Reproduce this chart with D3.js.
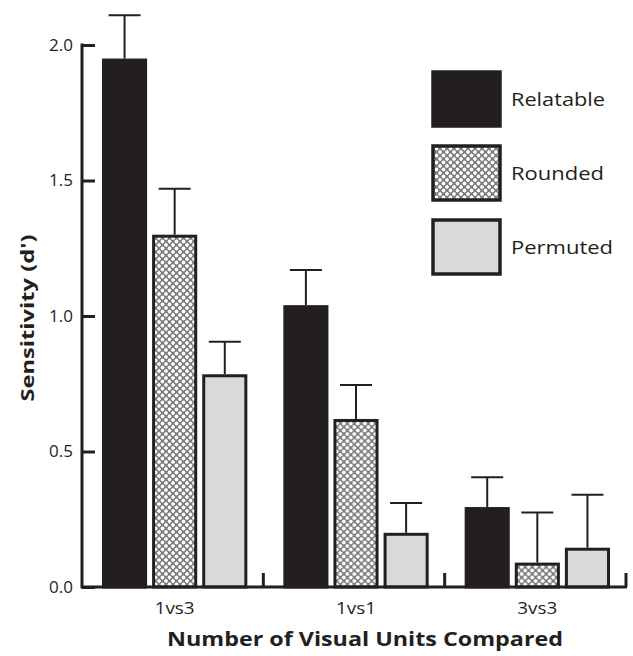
<!DOCTYPE html>
<html>
<head>
<meta charset="utf-8">
<script src="https://cdn.jsdelivr.net/npm/d3@7"></script>
<style>
  body { margin: 0; background: #fff; }
  text { font-family: "Open Sans", "Noto Sans", sans-serif; fill: #231f20; }
</style>
</head>
<body>
<script>
// data
const categories = ["1vs3", "1vs1", "3vs3"];
const seriesNames = ["Relatable", "Rounded", "Permuted"];
const relatable = [1.95, 1.04, 0.295];
const rounded = [1.30, 0.62, 0.09];
const permuted = [0.785, 0.20, 0.145];
const relatableErr = [0.16, 0.13, 0.11];
const roundedErr = [0.17, 0.125, 0.185];
const permutedErr = [0.12, 0.11, 0.195];
const yTicks = [0, 0.5, 1.0, 1.5, 2.0];

const W = 633, H = 656;
const ink = "#231f20";

const svg = d3.select("body").append("svg")
  .attr("width", W).attr("height", H);

// crosshatch-ish fill for the Rounded bars
const defs = svg.append("defs");
const pat = defs.append("pattern")
  .attr("id", "roundPat")
  .attr("patternUnits", "userSpaceOnUse")
  .attr("width", 7).attr("height", 7);
pat.append("rect").attr("width", 7).attr("height", 7).attr("fill", "#8c8c8c");
[[0,0],[7,0],[0,7],[7,7],[3.5,3.5]].forEach(([cx, cy]) => {
  pat.append("circle").attr("cx", cx).attr("cy", cy).attr("r", 2.4)
    .attr("fill", "#fff").attr("stroke", "#444").attr("stroke-width", 0.6);
});

const fills = ["#231f20", "url(#roundPat)", "#d9d9d9"];

const x0 = d3.scaleBand().domain(categories).range([82, 626]).padding(0);
const x1 = d3.scaleBand().domain(seriesNames).range([20, x0.bandwidth() - 16]).paddingInner(0.1);
const y = d3.scaleLinear().domain([0, 2]).range([587, 45]);

const rows = categories.map((c, i) => ({
  cat: c,
  vals: [
    {s: seriesNames[0], v: relatable[i], e: relatableErr[i], k: 0},
    {s: seriesNames[1], v: rounded[i], e: roundedErr[i], k: 1},
    {s: seriesNames[2], v: permuted[i], e: permutedErr[i], k: 2}
  ]
}));

const groups = svg.selectAll("g.grp").data(rows).enter()
  .append("g").attr("class", "grp")
  .attr("transform", d => `translate(${x0(d.cat)},0)`);

// error bars (upper only)
const eb = groups.selectAll("g.eb").data(d => d.vals).enter().append("g").attr("class", "eb");
eb.append("line")
  .attr("x1", d => x1(d.s) + x1.bandwidth() / 2)
  .attr("x2", d => x1(d.s) + x1.bandwidth() / 2)
  .attr("y1", d => y(d.v)).attr("y2", d => y(d.v + d.e))
  .attr("stroke", ink).attr("stroke-width", 2);
eb.append("line")
  .attr("x1", d => x1(d.s) + x1.bandwidth() / 2 - 16)
  .attr("x2", d => x1(d.s) + x1.bandwidth() / 2 + 16)
  .attr("y1", d => y(d.v + d.e)).attr("y2", d => y(d.v + d.e))
  .attr("stroke", ink).attr("stroke-width", 2);

groups.selectAll("rect").data(d => d.vals).enter().append("rect")
  .attr("x", d => x1(d.s) + 1.5)
  .attr("width", x1.bandwidth() - 3)
  .attr("y", d => y(d.v) + 1.5)
  .attr("height", d => y(0) - y(d.v) - 1.5)
  .attr("fill", d => fills[d.k])
  .attr("stroke", ink).attr("stroke-width", 3);

// y axis: ticks pointing inward
const yAxis = svg.append("g").attr("transform", "translate(82,0)")
  .call(d3.axisRight(y).tickValues(yTicks).tickSize(13).tickFormat(d3.format(".1f")));
yAxis.select(".domain").remove();
yAxis.selectAll(".tick line").attr("stroke", ink).attr("stroke-width", 3);
yAxis.selectAll(".tick text").attr("x", -9).attr("text-anchor", "end")
  .style("font-size", "17px").style("font-family", "Open Sans, sans-serif").style("fill", ink);
svg.append("line").attr("x1", 82).attr("x2", 82).attr("y1", y(2) - 1.5).attr("y2", y(0) + 1.5)
  .attr("stroke", ink).attr("stroke-width", 3);

// x axis: baseline with separator ticks
svg.append("line").attr("x1", 82).attr("x2", 627).attr("y1", y(0)).attr("y2", y(0))
  .attr("stroke", ink).attr("stroke-width", 3);
svg.selectAll("line.sep").data(categories).enter().append("line").attr("class", "sep")
  .attr("x1", d => x0(d) + x0.bandwidth()).attr("x2", d => x0(d) + x0.bandwidth())
  .attr("y1", y(0)).attr("y2", y(0) - 14)
  .attr("stroke", ink).attr("stroke-width", 3);
svg.selectAll("text.cat").data(categories).enter().append("text").attr("class", "cat")
  .attr("x", d => x0(d) + x0.bandwidth() / 2 + 2).attr("y", 614)
  .attr("text-anchor", "middle").style("font-size", "17px")
  .attr("textLength", 40).attr("lengthAdjust", "spacingAndGlyphs").text(d => d);

// axis titles
svg.append("text").attr("x", 365).attr("y", 646).attr("text-anchor", "middle")
  .style("font-size", "20px").attr("font-weight", "bold")
  .attr("textLength", 396).attr("lengthAdjust", "spacingAndGlyphs")
  .text("Number of Visual Units Compared");
svg.append("text").attr("transform", "translate(34,318) rotate(-90)")
  .attr("text-anchor", "middle").style("font-size", "18px").attr("font-weight", "bold")
  .attr("textLength", 167).attr("lengthAdjust", "spacingAndGlyphs")
  .text("Sensitivity (d')");

// legend
const legY = d3.scalePoint().domain(seriesNames).range([99, 247]);
const legLen = [94, 93, 102];
const leg = svg.selectAll("g.leg").data(seriesNames).enter().append("g").attr("class", "leg")
  .attr("transform", d => `translate(433,${legY(d)})`);
leg.append("rect").attr("x", 0).attr("y", -27).attr("width", 67).attr("height", 54)
  .attr("fill", (d, i) => fills[i]).attr("stroke", ink).attr("stroke-width", 3.5);
leg.append("text").attr("x", 78).attr("y", 7).style("font-size", "19px")
  .attr("textLength", (d, i) => legLen[i]).attr("lengthAdjust", "spacingAndGlyphs")
  .text(d => d);
</script>
</body>
</html>
